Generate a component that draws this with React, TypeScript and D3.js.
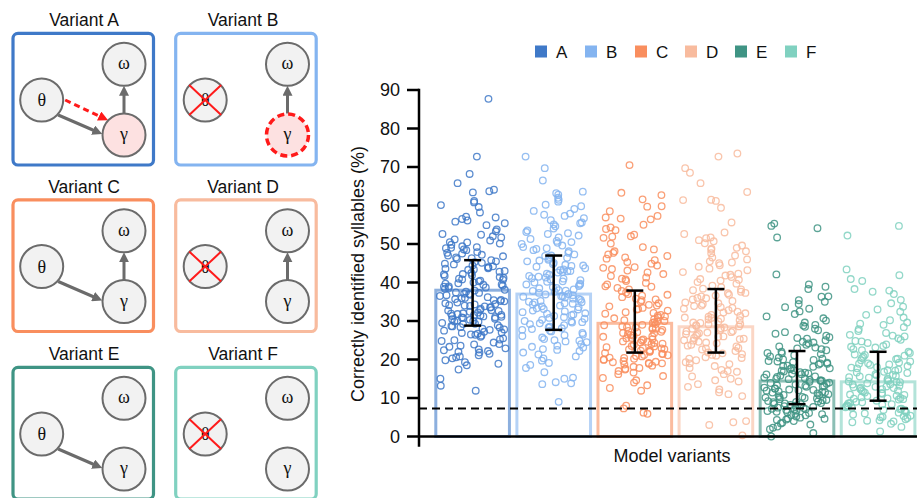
import React from 'react';
import * as d3 from 'd3';

const categories = ['A', 'B', 'C', 'D', 'E', 'F'];
const colors = ['#3f79c8', '#84b4f0', '#f98e5e', '#f8bb9e', '#3f9484', '#80d1c0'];
const barMeans = [38.0, 37.0, 29.4, 28.5, 14.4, 14.2];
const errLow = [28.8, 27.7, 21.8, 21.8, 8.4, 9.3];
const errHigh = [45.8, 47.0, 37.9, 38.3, 22.2, 22.0];
const chanceLevel = 7.3;
const yTicks = [0, 10, 20, 30, 40, 50, 60, 70, 80, 90];
const yLabel = 'Correctly identified syllables (%)';
const xLabel = 'Model variants';

const pointsA = [
  87.7, 72.7, 68.2, 65.8, 64.1, 63.7, 63.4, 61.2, 60.8, 60.1, 59.6, 58.2, 57.1, 56.9, 56.5, 56.1, 55.8, 55.4, 54.9, 53.8,
  53.3, 52.6, 52.4, 51.7, 51.2, 50.9, 50.5, 50.1, 49.8, 49.4, 49.2, 48.6, 48.4, 47.9, 47.7, 47.2, 46.8, 46.5, 46.1, 45.8,
  45.5, 45.1, 44.9, 44.4, 44.2, 43.9, 43.6, 43.3, 43.0, 42.8, 42.5, 42.2, 41.9, 41.7, 41.4, 41.0, 40.8, 40.5, 40.3, 40.0,
  39.8, 39.5, 39.2, 39.0, 38.7, 38.4, 38.1, 37.9, 37.6, 37.3, 37.0, 36.8, 36.5, 36.2, 35.9, 35.7, 35.4, 35.1, 34.8, 34.6,
  34.3, 34.0, 33.8, 33.5, 33.2, 32.9, 32.7, 32.4, 32.2, 31.9, 31.8, 31.6, 31.4, 31.2, 31.0, 30.8, 30.6, 30.3, 30.1, 29.8,
  29.5, 29.2, 28.9, 28.6, 28.3, 28.0, 27.7, 27.5, 27.2, 27.0, 26.7, 26.4, 26.2, 25.9, 25.5, 25.2, 24.8, 24.4, 24.0, 23.6,
  23.3, 22.9, 22.6, 22.2, 21.8, 21.5, 21.1, 20.8, 20.3, 19.8, 19.3, 18.9, 18.5, 17.4, 15.0, 13.2, 11.9,
  31.5, 32.0, 30.9, 38.9, 39.7, 40.7, 42.1, 44.7, 45.3, 46.3, 47.5, 48.9, 36.0, 35.2, 33.9, 29.9, 28.7, 27.8, 26.9, 31.3,
  23.9, 22.4, 43.4, 37.1, 34.1,
  33.6, 30.5, 29.3, 32.6, 35.5, 38.6, 41.2, 43.7, 47.0, 49.0, 50.4, 52.0, 36.7, 34.4, 31.1, 28.4, 26.5, 25.0, 22.0, 20.6,
  44.0, 39.4, 37.4, 32.8, 30.0,
];
const pointsB = [
  72.7, 69.7, 66.5, 63.6, 63.2, 62.8, 62.0, 61.5, 61.0, 60.2, 59.8, 59.1, 58.6, 57.9, 57.3, 56.7, 56.2, 55.6, 55.1, 54.6,
  54.0, 53.5, 53.1, 52.6, 52.2, 51.7, 51.3, 50.8, 50.5, 50.0, 49.6, 49.2, 48.9, 48.4, 48.1, 47.7, 47.3, 47.0, 46.6, 46.2,
  45.9, 45.5, 45.1, 44.8, 44.4, 44.1, 43.7, 43.4, 43.0, 42.7, 42.3, 42.0, 41.7, 41.3, 41.0, 40.6, 40.3, 40.0, 39.7, 39.4,
  39.1, 38.8, 38.5, 38.2, 37.9, 37.6, 37.3, 37.0, 36.7, 36.4, 36.1, 35.8, 35.5, 35.2, 34.9, 34.6, 34.3, 34.0, 33.6, 33.3,
  33.0, 32.7, 32.3, 32.0, 31.7, 31.3, 31.0, 30.6, 30.3, 29.9, 29.6, 29.2, 28.9, 28.5, 28.1, 27.7, 27.3, 26.9, 26.5, 26.1,
  25.7, 25.3, 24.9, 24.5, 24.0, 23.6, 23.1, 22.7, 22.2, 21.8, 21.3, 20.8, 20.3, 19.7, 19.1, 18.6, 17.8, 16.7, 15.3, 15.0,
  14.1, 13.8, 13.6, 9.0,
  43.2, 38.0, 36.9, 35.0, 33.8, 31.9, 30.0, 39.5, 41.5, 44.6, 27.9, 25.0, 46.9, 37.8, 34.5, 29.4, 42.6, 40.8, 36.3, 32.5,
  50.3, 48.7, 46.4, 44.3, 41.1, 38.6, 36.5, 34.8, 33.1, 31.5, 29.7, 28.3, 26.3, 24.7, 22.5, 52.8, 55.4, 57.6, 45.7, 40.2,
  35.7, 30.8, 27.5, 23.3, 42.9,
];
const pointsC = [
  70.5, 63.3, 62.7, 61.6, 59.8, 59.7, 58.5, 57.3, 56.9, 56.6, 56.4, 55.0, 54.3, 53.9, 53.6, 52.4, 52.0, 51.9, 51.6, 50.1,
  49.2, 48.6, 48.1, 47.7, 47.3, 46.9, 46.2, 45.8, 45.3, 44.9, 44.4, 44.0, 43.5, 43.1, 42.6, 42.2, 41.7, 41.3, 40.8, 40.4,
  39.9, 39.5, 39.0, 38.6, 38.2, 37.8, 37.4, 37.0, 36.6, 36.2, 35.8, 35.4, 35.0, 34.6, 34.2, 33.8, 33.4, 33.0, 32.7, 32.3,
  31.9, 31.6, 31.2, 30.9, 30.5, 30.2, 29.9, 29.5, 29.2, 28.9, 28.6, 28.3, 28.0, 27.7, 27.4, 27.1, 26.8, 26.5, 26.2, 25.9,
  25.6, 25.3, 25.0, 24.7, 24.4, 24.1, 23.8, 23.5, 23.2, 22.9, 22.6, 22.3, 22.0, 21.7, 21.4, 21.1, 20.8, 20.5, 20.2, 19.9,
  19.6, 19.3, 19.0, 18.7, 18.4, 18.1, 17.8, 17.4, 17.0, 16.6, 16.2, 15.7, 15.2, 14.6, 14.0, 13.3, 12.6, 11.9, 8.0, 7.3,
  6.2, 5.9,
  20.0, 21.5, 22.4, 23.0, 24.6, 26.0, 27.9, 29.0, 30.0, 31.4, 19.4, 20.9, 25.5, 28.2, 33.1, 35.6, 22.7, 24.0, 18.9, 26.9,
  21.2, 23.4, 25.2, 27.2, 29.7, 32.1, 34.0, 36.8, 38.9, 41.0, 43.8, 46.5, 19.1, 20.4, 22.1, 24.3, 26.4, 28.4, 30.7, 17.6,
];
const pointsD = [
  73.5, 72.7, 69.7, 68.5, 65.8, 63.5, 61.5, 61.4, 61.2, 59.4, 55.6, 53.0, 52.6, 51.7, 51.5, 51.0, 50.7, 50.2, 49.6, 49.0,
  48.5, 48.1, 47.6, 47.0, 46.5, 46.0, 45.5, 45.0, 44.5, 44.1, 43.6, 43.2, 42.7, 42.3, 41.8, 41.4, 40.9, 40.5, 40.1, 39.7,
  39.2, 38.8, 38.4, 38.0, 37.6, 37.2, 36.8, 36.4, 36.0, 35.6, 35.2, 34.8, 34.4, 34.0, 33.6, 33.2, 32.8, 32.4, 32.0, 31.6,
  31.3, 30.9, 30.6, 30.2, 29.9, 29.5, 29.2, 28.9, 28.6, 28.3, 28.0, 27.7, 27.4, 27.1, 26.8, 26.5, 26.2, 25.9, 25.6, 25.3,
  25.0, 24.6, 24.2, 23.8, 23.4, 23.0, 22.6, 22.2, 21.8, 21.4, 21.0, 20.6, 20.2, 19.8, 19.3, 18.8, 18.3, 17.8, 17.3, 16.8,
  16.2, 15.6, 15.0, 14.3, 13.6, 12.9, 12.2, 11.5, 11.0, 10.5, 4.0, 3.7, 3.0, 0.3,
  29.6, 30.8, 28.1, 27.0, 33.9, 31.1, 25.4, 37.3, 21.6, 19.0, 24.9, 35.9, 26.6, 22.9,
  20.4, 23.6, 26.0, 28.7, 32.2, 34.6, 38.2, 42.0, 45.2, 48.8, 17.0, 14.6, 30.4, 27.3, 24.4, 21.2, 36.6, 40.7, 33.4, 29.1,
];
const pointsE = [
  55.3, 54.7, 54.1, 51.7, 42.1, 39.5, 38.9, 38.3, 36.4, 36.3, 35.4, 35.0, 34.4, 33.6, 33.2, 32.5, 31.8, 31.2, 30.7, 30.1,
  29.6, 29.0, 28.5, 28.0, 27.6, 27.1, 26.7, 26.2, 25.8, 25.4, 25.0, 24.6, 24.2, 23.8, 23.4, 23.1, 22.7, 22.4, 22.0, 21.7,
  21.4, 21.1, 20.8, 20.5, 20.2, 19.9, 19.6, 19.3, 19.0, 18.7, 18.4, 18.1, 17.8, 17.5, 17.2, 16.9, 16.6, 16.4, 16.1, 15.8,
  15.5, 15.3, 15.0, 14.7, 14.5, 14.2, 14.0, 13.7, 13.5, 13.2, 13.0, 12.7, 12.5, 12.2, 12.0, 11.7, 11.5, 11.2, 11.0, 10.7,
  10.5, 10.2, 10.0, 9.7, 9.5, 9.2, 9.0, 8.7, 8.5, 8.2, 8.0, 7.7, 7.5, 7.2, 7.0, 6.7, 6.4, 6.1, 5.8, 5.5,
  5.2, 4.9, 4.6, 4.3, 4.0, 3.6, 3.1, 2.6, 1.9, 0.9, 0.0,
  15.1, 12.9, 11.4, 9.9, 8.9, 7.9, 6.9, 10.8, 13.9, 16.7, 18.3, 5.9, 4.4, 9.4, 12.1, 14.9, 17.1, 20.0, 8.4, 6.3,
  10.3, 11.9, 13.3, 7.4, 15.6, 19.5, 22.9, 24.4, 3.4, 2.3,
  5.6, 7.1, 8.6, 10.1, 11.6, 13.1, 14.6, 16.2, 17.7, 19.2, 21.6, 25.6, 28.8, 4.7, 6.6, 9.1, 12.4, 14.4, 16.3, 18.9,
];
const pointsF = [
  54.7, 52.2, 43.4, 41.9, 40.9, 40.4, 38.3, 37.9, 37.6, 37.0, 35.5, 34.6, 33.7, 33.0, 32.4, 31.6, 30.9, 30.2, 29.6, 29.0,
  28.4, 27.9, 27.4, 26.9, 26.4, 26.0, 25.5, 25.1, 24.7, 24.3, 23.9, 23.5, 23.1, 22.7, 22.4, 22.0, 21.7, 21.3, 21.0, 20.7,
  20.4, 20.1, 19.8, 19.5, 19.2, 18.9, 18.6, 18.3, 18.0, 17.7, 17.4, 17.1, 16.8, 16.5, 16.2, 15.9, 15.6, 15.3, 15.0, 14.7,
  14.4, 14.1, 13.8, 13.5, 13.2, 12.9, 12.6, 12.3, 12.0, 11.7, 11.4, 11.1, 10.8, 10.5, 10.2, 9.9, 9.6, 9.3, 9.0, 8.7,
  8.4, 8.1, 7.8, 7.5, 7.2, 6.9, 6.6, 6.3, 6.0, 5.7, 5.4, 5.1, 4.8, 4.5, 4.1, 3.7, 3.3, 2.5, 1.3,
  10.6, 12.4, 8.6, 7.1, 9.7, 11.9, 13.6, 15.7, 17.9, 6.2, 5.0, 14.3, 16.0, 10.0, 8.9, 7.6, 12.8, 19.0, 21.2, 4.2,
  5.3, 6.8, 8.3, 9.8, 11.3, 12.7, 14.2, 15.4, 17.2, 18.7, 20.2, 23.3, 26.2, 29.3, 3.9, 7.9, 10.9, 13.0, 16.6, 24.8,
];
const pointGroups = [pointsA, pointsB, pointsC, pointsD, pointsE, pointsF];

// Diagram structure of each model variant
const variantTitles = ['Variant A', 'Variant B', 'Variant C', 'Variant D', 'Variant E', 'Variant F'];
const thetaRemoved = [false, true, false, true, false, true];
const thetaToGamma = [true, false, true, false, true, false];
const thetaToGammaRed = [true, false, false, false, false, false];
const gammaToOmega = [true, true, true, true, false, false];
const gammaStyle = ['pink', 'dashedRed', 'plain', 'plain', 'plain', 'plain'];

const FONT = '"Liberation Sans", Arial, Helvetica, sans-serif';
const SERIF = '"Liberation Serif", "Times New Roman", serif';

function jitter(g: number, i: number) {
  const s = Math.sin((i + 1) * 12.9898 + (g + 1) * 78.233) * 43758.5453;
  return s - Math.floor(s);
}

function Diagram({ idx }: { idx: number }) {
  const col = idx % 2;
  const row = Math.floor(idx / 2);
  const dx = col === 0 ? 0 : 163.5;
  const dy = [0, 166.5, 334][row];
  const color = colors[idx];
  const R = 21.5;
  const th = { x: 41.7 + dx, y: 100 + dy };
  const om = { x: 124 + dx, y: 64.3 + dy };
  const ga = { x: 124 + dx, y: 135 + dy };
  const titleX = col === 0 ? 84 : 243;
  const gs = gammaStyle[idx];
  return (
    <g>
      <text x={titleX} y={26 + dy} textAnchor="middle" fontFamily={FONT} fontSize={17.5} fill="#111">
        {variantTitles[idx]}
      </text>
      <rect x={13 + (col === 0 ? 0 : 162.7)} y={33.3 + dy} width={140.5} height={131.7} rx={5} fill="white" stroke={color} strokeWidth={3.2} />
      {thetaToGamma[idx] && (
        <line x1={th.x + 16.5} y1={th.y + 15} x2={ga.x - 30} y2={ga.y - 4.5} stroke="#6b6b6b" strokeWidth={3} markerEnd="url(#arrowGray)" />
      )}
      {thetaToGammaRed[idx] && (
        <line x1={th.x + 23.5} y1={th.y} x2={ga.x - 24} y2={ga.y - 18.5} stroke="#ff1a1a" strokeWidth={3} strokeDasharray="6,4" markerEnd="url(#arrowRed)" />
      )}
      {gammaToOmega[idx] && (
        <line x1={ga.x} y1={ga.y - R} x2={om.x} y2={om.y + R + 9} stroke="#6b6b6b" strokeWidth={3} markerEnd="url(#arrowGray)" />
      )}
      <circle cx={th.x} cy={th.y} r={R} fill="#f2f2f2" stroke="#6b6b6b" strokeWidth={2} />
      <circle cx={om.x} cy={om.y} r={R} fill="#f2f2f2" stroke="#6b6b6b" strokeWidth={2} />
      <circle
        cx={ga.x}
        cy={ga.y}
        r={gs === 'dashedRed' ? R - 0.5 : R}
        fill={gs === 'plain' ? '#f2f2f2' : '#fde1e1'}
        stroke={gs === 'dashedRed' ? '#ff1a1a' : '#6b6b6b'}
        strokeWidth={gs === 'dashedRed' ? 3.5 : 2}
        strokeDasharray={gs === 'dashedRed' ? '7,4' : undefined}
      />
      <text x={th.x} y={th.y + 6} textAnchor="middle" fontFamily={SERIF} fontSize={18} fill="#111">θ</text>
      <text x={om.x} y={om.y + 5} textAnchor="middle" fontFamily={SERIF} fontSize={18} fill="#111">ω</text>
      <text x={ga.x} y={ga.y + 5} textAnchor="middle" fontFamily={SERIF} fontSize={18} fill="#111">γ</text>
      {thetaRemoved[idx] && (
        <g stroke="#ff1a1a" strokeWidth={2}>
          <line x1={th.x - 16} y1={th.y - 15} x2={th.x + 16} y2={th.y + 15} />
          <line x1={th.x + 16} y1={th.y - 15} x2={th.x - 16} y2={th.y + 15} />
        </g>
      )}
    </g>
  );
}

export default function App() {
  const W = 917;
  const H = 498;
  const axisX = 419;
  const y = d3.scaleLinear().domain([0, 90]).range([436.5, 90]);
  const x = d3.scaleBand<string>().domain(categories).range([434.3, 916.4]).paddingInner(0.055).paddingOuter(0);
  const bw = x.bandwidth();
  const sw = 3;

  return (
    <svg width={W} height={H} style={{ position: 'absolute', left: 0, top: 0, background: 'white' }}>
      <defs>
        <marker id="arrowGray" viewBox="0 0 10 10" refX={1} refY={5} markerWidth={10} markerHeight={10} markerUnits="userSpaceOnUse" orient="auto">
          <path d="M0,0 L10,5 L0,10 z" fill="#6b6b6b" />
        </marker>
        <marker id="arrowRed" viewBox="0 0 10 10" refX={1} refY={5} markerWidth={10} markerHeight={10} markerUnits="userSpaceOnUse" orient="auto">
          <path d="M0,0 L10,5 L0,10 z" fill="#ff1a1a" />
        </marker>
      </defs>

      {categories.map((c, i) => (
        <Diagram key={c} idx={i} />
      ))}

      {/* legend */}
      {categories.map((c, i) => (
        <g key={'lg' + c}>
          <rect x={535 + i * 50} y={45.5} width={12} height={12} fill={colors[i]} />
          <text x={556 + i * 50} y={57.5} fontFamily={FONT} fontSize={17} fill="#111">{c}</text>
        </g>
      ))}

      {/* bars */}
      {categories.map((c, i) => (
        <rect
          key={'bar' + c}
          x={(x(c) as number) + sw / 2}
          y={y(barMeans[i])}
          width={bw - sw}
          height={y(0) - y(barMeans[i])}
          fill="none"
          stroke={colors[i]}
          strokeOpacity={0.6}
          strokeWidth={sw}
        />
      ))}

      {/* points */}
      {pointGroups.map((pts, g) => {
        const cx = (x(categories[g]) as number) + bw / 2;
        return (
          <g key={'pts' + g} stroke={colors[g]} strokeOpacity={0.85} fill="none" strokeWidth={1.3}>
            {pts.map((v, i) => (
              <circle key={i} cx={cx + (jitter(g, i) - 0.5) * 66} cy={y(v)} r={3.3} />
            ))}
          </g>
        );
      })}

      {/* error bars */}
      {categories.map((c, i) => {
        const cx = (x(c) as number) + bw / 2;
        return (
          <g key={'err' + c} stroke="#000" strokeWidth={2.5}>
            <line x1={cx} x2={cx} y1={y(errHigh[i])} y2={y(errLow[i])} />
            <line x1={cx - 8.5} x2={cx + 8.5} y1={y(errHigh[i])} y2={y(errHigh[i])} />
            <line x1={cx - 8.5} x2={cx + 8.5} y1={y(errLow[i])} y2={y(errLow[i])} />
          </g>
        );
      })}

      {/* chance level */}
      <line x1={axisX} x2={W} y1={y(chanceLevel)} y2={y(chanceLevel)} stroke="#000" strokeWidth={2} strokeDasharray="8,5" />

      {/* axes */}
      <line x1={axisX} x2={axisX} y1={y(90) - 1.2} y2={446.7} stroke="#000" strokeWidth={2.5} />
      <line x1={axisX} x2={W} y1={y(0)} y2={y(0)} stroke="#000" strokeWidth={2.5} />
      {yTicks.map((t) => (
        <g key={'t' + t}>
          <line x1={407} x2={axisX} y1={y(t)} y2={y(t)} stroke="#000" strokeWidth={2.5} />
          <text x={400} y={y(t) + 6.3} textAnchor="end" fontFamily={FONT} fontSize={18} fill="#111">{t}</text>
        </g>
      ))}
      <text transform="translate(364,274) rotate(-90)" textAnchor="middle" fontFamily={FONT} fontSize={18} fill="#111">
        {yLabel}
      </text>
      <text x={672} y={462} textAnchor="middle" fontFamily={FONT} fontSize={18} fill="#111">
        {xLabel}
      </text>
    </svg>
  );
}
